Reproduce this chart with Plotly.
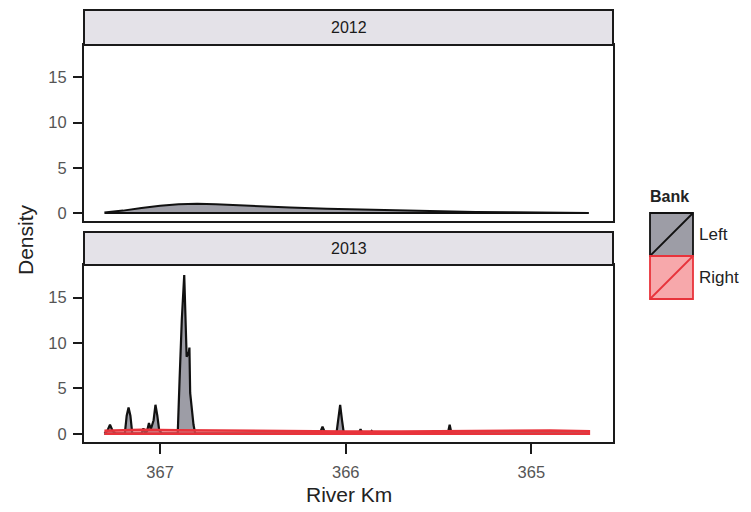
import plotly.graph_objects as go

# ---------------- data ----------------
years = ["2012", "2013"]
banks = ["Left", "Right"]

left_2012_km = [367.30, 367.20, 367.10, 367.00, 366.90, 366.80, 366.70, 366.60, 366.50,
                366.30, 366.10, 365.90, 365.70, 365.50, 365.30, 365.10, 364.90, 364.69]
left_2012_density = [0.05, 0.25, 0.55, 0.80, 0.95, 1.00, 0.95, 0.85, 0.75,
                     0.60, 0.45, 0.35, 0.25, 0.15, 0.10, 0.07, 0.05, 0.05]

left_2013_km = [367.30, 367.285, 367.27, 367.255, 367.24, 367.19, 367.18, 367.17, 367.16, 367.15,
                367.10, 367.09, 367.08, 367.07, 367.06, 367.05, 367.035, 367.025, 367.015, 367.005,
                366.99, 366.905, 366.895, 366.883, 366.870, 366.857, 366.845, 366.842,
                366.838, 366.830, 366.820, 366.811, 366.14, 366.125, 366.11, 366.05, 366.04,
                366.03, 366.02, 366.01, 365.93, 365.92, 365.91, 365.87, 365.86, 365.85, 365.45,
                365.44, 365.43, 364.69]
left_2013_density = [0.05, 0.3, 1.0, 0.3, 0.05, 0.05, 2.0, 2.9, 2.0, 0.05,
                     0.05, 0.6, 0.05, 0.3, 1.2, 0.5, 1.5, 3.2, 2.0, 0.4,
                     0.05, 0.05, 6.0, 12.6, 17.5, 8.5, 9.0, 9.5,
                     4.5, 2.5, 1.0, 0.05, 0.05, 0.8, 0.05, 0.05, 1.5,
                     3.2, 1.5, 0.05, 0.05, 0.5, 0.05, 0.05, 0.3, 0.05, 0.05,
                     1.0, 0.05, 0.05]

right_2013_km = [367.30, 367.10, 366.90, 366.70, 366.50, 366.20, 366.00, 365.70,
                 365.50, 365.30, 365.10, 364.90, 364.69]
right_2013_density = [0.35, 0.45, 0.40, 0.35, 0.30, 0.28, 0.25, 0.25,
                      0.30, 0.35, 0.40, 0.38, 0.30]

x_ticks = [367, 366, 365]
y_ticks = [0, 5, 10, 15]

# ---------------- styling ----------------
W, H = 751, 512
FONT = "Liberation Sans, Arial, sans-serif"
LEFT_FILL = "rgba(135,135,147,0.82)"
LEFT_LINE = "#111111"
RIGHT_FILL = "rgba(242,110,115,0.60)"
RIGHT_LINE = "#e8333b"

def px_x(p):
    return p / W

def px_y(p):
    return 1 - p / H

x0, x1 = px_x(84), px_x(613)
top_dom = [px_y(221), px_y(45)]
bot_dom = [px_y(442), px_y(265)]


def polygon(km, dens):
    xs = list(km) + list(km)[::-1]
    ys = list(dens) + [0.0] * len(km)
    return xs, ys


fig = go.Figure()

xs, ys = polygon(left_2012_km, left_2012_density)
fig.add_trace(go.Scatter(x=xs, y=ys, fill="toself", fillcolor=LEFT_FILL, mode="lines",
                         line=dict(color=LEFT_LINE, width=2), xaxis="x", yaxis="y",
                         showlegend=False, hoverinfo="skip"))

xs, ys = polygon(left_2013_km, left_2013_density)
fig.add_trace(go.Scatter(x=xs, y=ys, fill="toself", fillcolor=LEFT_FILL, mode="lines",
                         line=dict(color=LEFT_LINE, width=2.2), xaxis="x2", yaxis="y2",
                         showlegend=False, hoverinfo="skip"))

xs, ys = polygon(right_2013_km, right_2013_density)
fig.add_trace(go.Scatter(x=xs, y=ys, fill="toself", fillcolor=RIGHT_FILL, mode="lines",
                         line=dict(color=RIGHT_LINE, width=2.5), xaxis="x2", yaxis="y2",
                         showlegend=False, hoverinfo="skip"))

xrange = [367.41, 364.56]
yrange = [-0.9, 18.6]

common_axis = dict(showgrid=False, zeroline=False, showline=True, linecolor="#1a1a1a",
                   linewidth=2, mirror=True)
tick_font = dict(size=16.5, color="#555555", family=FONT)

fig.update_layout(
    width=W, height=H,
    margin=dict(l=0, r=0, t=0, b=0),
    paper_bgcolor="white", plot_bgcolor="white",
    font=dict(family=FONT, color="#222222"),
    showlegend=False,
    xaxis=dict(domain=[x0, x1], anchor="y", range=xrange, tickvals=x_ticks,
               showticklabels=False, ticks="", **common_axis),
    yaxis=dict(domain=top_dom, anchor="x", range=yrange, tickvals=y_ticks,
               ticks="outside", ticklen=9, tickwidth=2, tickcolor="#1a1a1a",
               ticklabelstandoff=3, tickfont=tick_font, **common_axis),
    xaxis2=dict(domain=[x0, x1], anchor="y2", range=xrange, tickvals=x_ticks,
                ticktext=[str(v) for v in x_ticks],
                ticks="outside", ticklen=10, tickwidth=2, tickcolor="#1a1a1a",
                ticklabelstandoff=4, tickfont=tick_font, **common_axis),
    yaxis2=dict(domain=bot_dom, anchor="x2", range=yrange, tickvals=y_ticks,
                ticks="outside", ticklen=9, tickwidth=2, tickcolor="#1a1a1a",
                ticklabelstandoff=3, tickfont=tick_font, **common_axis),
)

shapes = []
annotations = []

# facet strips
for yr, (top, bot) in zip(years, [(10, 45), (232, 265)]):
    shapes.append(dict(type="rect", xref="paper", yref="paper", x0=x0, x1=x1,
                       y0=px_y(bot), y1=px_y(top), fillcolor="#e4e2e8",
                       line=dict(color="#1a1a1a", width=2), layer="above"))
    annotations.append(dict(text=yr, xref="paper", yref="paper", x=(x0 + x1) / 2,
                            y=px_y((top + bot) / 2), xanchor="center", yanchor="middle",
                            showarrow=False,
                            font=dict(size=16, color="#1a1a1a", family=FONT)))

# axis titles
annotations.append(dict(text="Density", xref="paper", yref="paper", x=px_x(25), y=px_y(240),
                        xanchor="center", yanchor="middle", textangle=-90, showarrow=False,
                        font=dict(size=21, color="#222222", family=FONT)))
annotations.append(dict(text="River Km", xref="paper", yref="paper", x=(x0 + x1) / 2,
                        y=px_y(494), xanchor="center", yanchor="middle", showarrow=False,
                        font=dict(size=21, color="#222222", family=FONT)))

# legend (drawn manually, ggplot style keys)
annotations.append(dict(text="<b>Bank</b>", xref="paper", yref="paper", x=px_x(648),
                        y=px_y(196), xanchor="left", yanchor="middle", showarrow=False,
                        font=dict(size=16, color="#222222", family=FONT)))
key_specs = [("Left", LEFT_FILL, LEFT_LINE, 213, 256), ("Right", RIGHT_FILL, RIGHT_LINE, 256, 299)]
for label, fill, line, top, bot in key_specs:
    shapes.append(dict(type="rect", xref="paper", yref="paper", x0=px_x(650), x1=px_x(693),
                       y0=px_y(bot), y1=px_y(top), fillcolor=fill,
                       line=dict(color=line, width=1.8)))
    shapes.append(dict(type="line", xref="paper", yref="paper", x0=px_x(650), x1=px_x(693),
                       y0=px_y(bot), y1=px_y(top), line=dict(color=line, width=1.8)))
    annotations.append(dict(text=label, xref="paper", yref="paper", x=px_x(697),
                            y=px_y((top + bot) / 2), xanchor="left", yanchor="middle",
                            showarrow=False,
                            font=dict(size=17, color="#222222", family=FONT)))

fig.update_layout(shapes=shapes, annotations=annotations)

fig.write_html("out.html")
